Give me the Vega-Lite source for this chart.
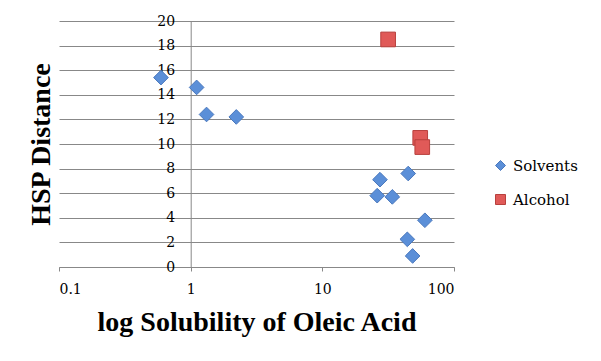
{
  "$schema": "https://vega.github.io/schema/vega-lite/v6.json",
  "width": 395,
  "height": 246,
  "autosize": {"type": "none"},
  "padding": {"left": 59, "top": 21, "right": 147, "bottom": 94},
  "background": "white",
  "config": {
    "view": {"stroke": null},
    "font": "Liberation Serif",
    "axis": {"labelFont": "DejaVu Serif", "titleFont": "Liberation Serif"},
    "legend": {"labelFont": "DejaVu Serif"}
  },
  "data": {
    "values": [
      {"solubility": 0.595, "distance": 15.4, "series": "Solvents"},
      {"solubility": 1.11, "distance": 14.6, "series": "Solvents"},
      {"solubility": 1.32, "distance": 12.4, "series": "Solvents"},
      {"solubility": 2.22, "distance": 12.2, "series": "Solvents"},
      {"solubility": 27.4, "distance": 7.1, "series": "Solvents"},
      {"solubility": 44.9, "distance": 7.6, "series": "Solvents"},
      {"solubility": 26.1, "distance": 5.8, "series": "Solvents"},
      {"solubility": 34.0, "distance": 5.7, "series": "Solvents"},
      {"solubility": 60.1, "distance": 3.8, "series": "Solvents"},
      {"solubility": 44.2, "distance": 2.25, "series": "Solvents"},
      {"solubility": 48.5, "distance": 0.9, "series": "Solvents"},
      {"solubility": 31.6, "distance": 18.5, "series": "Alcohol"},
      {"solubility": 55.4, "distance": 10.5, "series": "Alcohol"},
      {"solubility": 57.4, "distance": 9.75, "series": "Alcohol"}
    ]
  },
  "mark": {"type": "point", "filled": true, "opacity": 1, "strokeWidth": 1, "size": 215},
  "encoding": {
    "x": {
      "field": "solubility",
      "type": "quantitative",
      "scale": {"type": "log", "domain": [0.1, 100], "nice": false},
      "axis": {
        "title": "log Solubility of Oleic Acid",
        "titleFontSize": 28,
        "titleFontWeight": "bold",
        "titleColor": "black",
        "titlePadding": 12,
        "values": [0.1, 1, 10, 100],
        "format": "~g",
        "labelFontSize": 14,
        "labelColor": "black",
        "labelPadding": 11,
        "tickSize": 4,
        "tickColor": "#888888",
        "domainColor": "#888888",
        "grid": false
      }
    },
    "y": {
      "field": "distance",
      "type": "quantitative",
      "scale": {"domain": [0, 20], "nice": false},
      "axis": {
        "title": "HSP Distance",
        "titleFontSize": 28,
        "titleFontWeight": "bold",
        "titleColor": "black",
        "titleX": -149,
        "titleY": 123,
        "titleAngle": -90,
        "titleAlign": "center",
        "titleBaseline": "middle",
        "values": [0, 2, 4, 6, 8, 10, 12, 14, 16, 18, 20],
        "labelFontSize": 14,
        "labelColor": "black",
        "labelPadding": 16,
        "tickSize": 0,
        "offset": -131.7,
        "domainColor": "#888888",
        "grid": true,
        "gridColor": "#888888",
        "gridOpacity": 1
      }
    },
    "color": {
      "field": "series",
      "type": "nominal",
      "scale": {"domain": ["Solvents", "Alcohol"], "range": ["#5b8fd8", "#e05a58"]},
      "legend": {
        "title": null,
        "orient": "none",
        "legendX": 434,
        "legendY": 137,
        "labelFontSize": 15,
        "labelColor": "black",
        "symbolSize": 100,
        "rowPadding": 18,
        "labelOffset": 5,
        "symbolStrokeWidth": 1
      }
    },
    "stroke": {
      "field": "series",
      "type": "nominal",
      "scale": {"domain": ["Solvents", "Alcohol"], "range": ["#4a78bd", "#b8403d"]},
      "legend": {
        "title": null,
        "orient": "none",
        "legendX": 434,
        "legendY": 137,
        "labelFontSize": 15,
        "labelColor": "black",
        "symbolSize": 100,
        "rowPadding": 18,
        "labelOffset": 5,
        "symbolStrokeWidth": 1
      }
    },
    "shape": {
      "field": "series",
      "type": "nominal",
      "scale": {"domain": ["Solvents", "Alcohol"], "range": ["diamond", "square"]},
      "legend": {
        "title": null,
        "orient": "none",
        "legendX": 434,
        "legendY": 137,
        "labelFontSize": 15,
        "labelColor": "black",
        "symbolSize": 100,
        "rowPadding": 18,
        "labelOffset": 5,
        "symbolStrokeWidth": 1
      }
    }
  }
}
